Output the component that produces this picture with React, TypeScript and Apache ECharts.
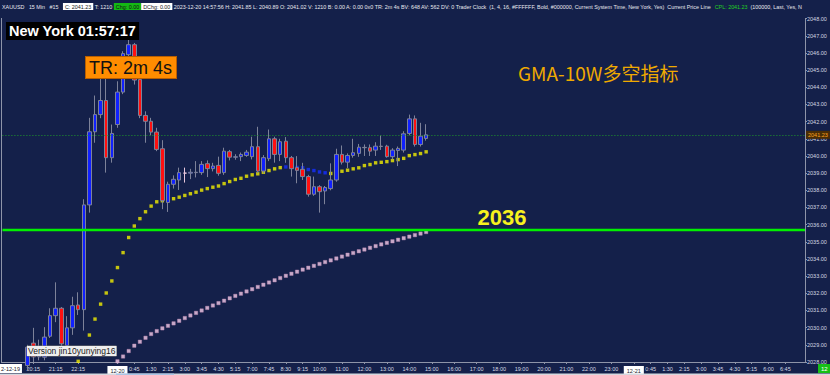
import React, { useEffect, useRef } from "react";
import * as echarts from "echarts";

// ---- axis categories: 15-minute bars (Beijing time), with the daily break ----
const SESSIONS: [string, string, string][] = [
  ["12-19", "19:00", "23:45"],
  ["12-20", "0:00", "5:45"],
  ["12-20", "7:00", "23:45"],
  ["12-21", "0:00", "7:30"],
];

const X_TICK_LABELS = [
  "12-19 20:15", "12-19 21:15", "12-19 22:15", "12-20 0:00", "12-20 0:45", "12-20 1:30",
  "12-20 2:15", "12-20 3:00", "12-20 3:45", "12-20 4:30", "12-20 5:15", "12-20 7:00",
  "12-20 7:45", "12-20 8:30", "12-20 9:15", "12-20 10:00", "12-20 11:00", "12-20 12:00",
  "12-20 13:00", "12-20 14:00", "12-20 15:00", "12-20 16:00", "12-20 17:00", "12-20 18:00",
  "12-20 19:00", "12-20 20:00", "12-20 21:00", "12-20 22:00", "12-20 23:00", "12-21 0:00",
  "12-21 0:45", "12-21 1:30", "12-21 2:15", "12-21 3:00", "12-21 3:45", "12-21 4:30",
  "12-21 5:15", "12-21 6:00", "12-21 6:45",
];

// ---- candles (first candle = 12-19 20:00) ----
const CANDLE_START = "12-19 20:00";
const candleOpen = [
  2027.8, 2029.1, 2028.3, 2028.28, 2029.5, 2030.7, 2031.13, 2028.96, 2029.99, 2031.32,
  2031.05, 2037.15, 2041.41, 2042.41, 2043.23, 2039.9, 2041.83, 2043.72, 2045.9, 2046.48,
  2044.45, 2042.36, 2042.02, 2041.39, 2040.42, 2037.29, 2038.35, 2038.6, 2039.0, 2039.0,
  2039.03, 2039.03, 2039.55, 2039.26, 2039.45, 2039.03, 2040.25, 2039.93, 2039.96, 2040.03,
  2039.96, 2040.54, 2039.12, 2039.84, 2041.0, 2040.09, 2040.86, 2039.9, 2039.32, 2039.22,
  2038.8, 2037.77, 2038.21, 2037.96, 2038.1, 2038.6, 2040.09, 2039.64, 2040.03, 2040.15,
  2040.5, 2040.48, 2040.34, 2040.57, 2040.57, 2039.96, 2040.32, 2040.34, 2041.31, 2042.16,
  2040.67, 2041.02,
];
const candleClose = [
  2028.86, 2028.3, 2028.8, 2029.45, 2030.7, 2031.13, 2029.06, 2029.99, 2031.28, 2031.05,
  2037.15, 2041.41, 2042.41, 2043.23, 2039.9, 2041.31, 2043.72, 2045.96, 2046.48, 2044.42,
  2042.36, 2042.02, 2041.39, 2040.38, 2037.4, 2038.35, 2038.64, 2039.03, 2039.0, 2039.05,
  2039.05, 2039.51, 2039.26, 2039.41, 2038.99, 2040.28, 2039.93, 2039.95, 2040.09, 2040.22,
  2040.54, 2039.12, 2039.9, 2041.0, 2040.09, 2040.83, 2039.9, 2039.26, 2039.16, 2038.8,
  2037.77, 2038.21, 2037.92, 2038.16, 2038.6, 2040.09, 2039.64, 2040.03, 2040.19, 2040.51,
  2040.48, 2040.28, 2040.57, 2040.55, 2039.96, 2040.34, 2040.44, 2041.29, 2042.16, 2040.67,
  2041.15, 2041.23,
];
const candleLow = [
  2027.5, 2028.0, 2028.1, 2028.1, 2029.4, 2030.32, 2028.9, 2028.9, 2029.58, 2030.74,
  2029.83, 2036.7, 2040.77, 2042.2, 2039.03, 2039.61, 2041.64, 2043.6, 2045.8, 2044.16,
  2042.2, 2040.77, 2041.2, 2040.28, 2036.9, 2036.74, 2038.1, 2038.02, 2038.45, 2038.65,
  2038.75, 2038.9, 2038.77, 2039.1, 2038.85, 2038.9, 2039.74, 2039.78, 2039.7, 2039.95,
  2039.8, 2039.0, 2038.99, 2039.7, 2039.61, 2039.7, 2039.6, 2038.8, 2038.41, 2038.6,
  2037.63, 2037.68, 2036.7, 2037.19, 2038.0, 2038.5, 2039.5, 2039.3, 2039.9, 2039.95,
  2040.0, 2040.0, 2040.0, 2040.35, 2039.9, 2039.8, 2039.41, 2040.2, 2041.2, 2040.55,
  2040.55, 2040.89,
];
const candleHigh = [
  2029.0, 2029.99, 2029.3, 2030.03, 2031.13, 2032.64, 2031.2, 2030.67, 2031.8, 2032.06,
  2037.48, 2042.22, 2043.52, 2044.5, 2044.49, 2041.83, 2044.35, 2046.1, 2046.87, 2046.58,
  2044.6, 2042.6, 2042.22, 2041.64, 2040.92, 2038.5, 2038.87, 2039.32, 2039.32, 2039.25,
  2039.7, 2039.7, 2039.74, 2039.6, 2039.96, 2040.48, 2040.35, 2040.1, 2040.2, 2040.35,
  2041.12, 2041.7, 2040.05, 2041.54, 2041.12, 2041.0, 2041.1, 2040.0, 2039.99, 2039.6,
  2038.9, 2038.8, 2038.3, 2038.25, 2039.57, 2040.42, 2040.61, 2040.15, 2041.0, 2040.7,
  2040.67, 2040.67, 2040.8, 2041.19, 2040.65, 2040.45, 2040.55, 2041.44, 2042.41, 2042.36,
  2041.93, 2041.85,
];

// ---- fast GMA (dots), first point = 12-19 22:15 ----
const FAST_START = "12-19 22:15";
const gmaFast = [
  2028.04, 2028.8, 2029.57, 2030.5, 2031.37, 2032.02, 2032.72, 2033.5, 2034.37, 2035.25,
  2035.92, 2036.35, 2036.75, 2037.08, 2037.33, 2037.39, 2037.42, 2037.51, 2037.6, 2037.7,
  2037.8, 2037.89, 2038.01, 2038.1, 2038.18, 2038.25, 2038.39, 2038.51, 2038.63, 2038.7,
  2038.82, 2038.9, 2038.96, 2039.05, 2039.15, 2039.25, 2039.32, 2039.36, 2039.34, 2039.33,
  2039.31, 2039.21, 2039.15, 2039.07, 2039.02, 2038.98, 2039.05, 2039.11, 2039.17, 2039.25,
  2039.31, 2039.44, 2039.5, 2039.6, 2039.63, 2039.67, 2039.73, 2039.79, 2039.86, 2040.02,
  2040.08, 2040.14, 2040.24,
];
// bars where the fast GMA is falling (drawn blue)
const FAST_DOWN_FROM = "12-20 8:30";
const FAST_DOWN_TO = "12-20 10:15";

// ---- slow GMA (pink dots), first point = 12-20 0:00 ----
const SLOW_START = "12-20 0:00";
const gmaSlow = [
  2028.04, 2028.32, 2028.64, 2028.95, 2029.18, 2029.41, 2029.63, 2029.8, 2029.96, 2030.11,
  2030.25, 2030.4, 2030.56, 2030.71, 2030.86, 2031.0, 2031.15, 2031.29, 2031.43, 2031.57,
  2031.71, 2031.85, 2031.98, 2032.11, 2032.24, 2032.37, 2032.5, 2032.63, 2032.76, 2032.89,
  2033.02, 2033.14, 2033.26, 2033.38, 2033.49, 2033.6, 2033.71, 2033.82, 2033.92, 2034.03,
  2034.14, 2034.25, 2034.35, 2034.45, 2034.55, 2034.65, 2034.75, 2034.85, 2034.94, 2035.03,
  2035.12, 2035.21, 2035.3, 2035.39, 2035.48, 2035.57,
];

const CURRENT_PRICE = 2041.23;
const KEY_LEVEL = 2035.68;
const KEY_LEVEL_TEXT = "2036";
const Y_MIN = 2028;
const Y_MAX = 2048;

function buildCategories(): string[] {
  const out: string[] = [];
  const toMin = (s: string) => {
    const [h, m] = s.split(":").map(Number);
    return h * 60 + m;
  };
  for (const [d, a, b] of SESSIONS) {
    for (let t = toMin(a); t <= toMin(b); t += 15) {
      out.push(`${d} ${Math.floor(t / 60)}:${String(t % 60).padStart(2, "0")}`);
    }
  }
  return out;
}

const FONT = "Liberation Sans";

function txt(x: number, y: number, text: string, extra: any = {}) {
  return {
    type: "text",
    x,
    y,
    z: 100,
    silent: true,
    style: {
      text,
      fill: "#e8e8ee",
      fontSize: 5,
      fontFamily: FONT,
      verticalAlign: "middle",
      align: "left",
      ...extra,
    },
  };
}

const HEADER =
  "{w|XAUUSD   15 Min   #15   }{b|C: 2041.23}{w| T: 1210 }{g|Chg: 0.00}{b|DChg: 0.00}" +
  "{w| 2023-12-20 14:57:56 H: 2041.85 L: 2040.89 O: 2041.02 V: 1210 B: 0.00 A: 0.00 0x0 TR: 2m 4s BV: 648 AV: 562 DV: 0 Trader Clock  (1, 4, 16, #FFFFFF, Bold, #000000, Current System Time, New York, Yes)  Current Price Line  }" +
  "{c|CPL: 2041.23}{w|  (100000, Last, Yes, N}";

export default function App() {
  const ref = useRef<HTMLDivElement>(null);

  useEffect(() => {
    document.body.style.margin = "0";
    if (!ref.current) return;
    const chart = echarts.init(ref.current, undefined, { renderer: "svg" });
    const cats = buildCategories();
    const idx = (c: string) => cats.indexOf(c);
    const labelSet = new Set(X_TICK_LABELS);

    const c0 = idx(CANDLE_START);
    const candleData = candleOpen.map((o, k) => [
      c0 + k,
      o,
      candleClose[k],
      candleLow[k],
      candleHigh[k],
    ]);

    const f0 = idx(FAST_START);
    const downA = idx(FAST_DOWN_FROM);
    const downB = idx(FAST_DOWN_TO);
    const fastUp: any[] = [];
    const fastDown: any[] = [];
    gmaFast.forEach((v, k) => {
      const i = f0 + k;
      if (i >= downA && i <= downB) fastDown.push([i, v]);
      else fastUp.push([i, v]);
    });

    const s0 = idx(SLOW_START);
    const slowData = gmaSlow.map((v, k) => [s0 + k, v]);

    const isLabel = (_i: number, v: string) => labelSet.has(v);
    const hs = 5.38;

    const option: any = {
      animation: false,
      backgroundColor: "#14204a",
      grid: { left: 2.4, right: 25, top: 18.6, bottom: 12 },
      xAxis: {
        type: "category",
        data: cats,
        boundaryGap: true,
        axisLine: { show: true, lineStyle: { color: "#8e94a8", width: 1 } },
        axisTick: {
          show: true,
          interval: isLabel,
          alignWithLabel: true,
          length: 2,
          lineStyle: { color: "#8e94a8" },
        },
        axisLabel: {
          interval: isLabel,
          color: "#d6d8e2",
          fontSize: 5.5,
          fontFamily: FONT,
          margin: 4,
          formatter: (v: string) => {
            const [d, t] = v.split(" ");
            return t === "0:00" ? `{d|${d}}` : t;
          },
          rich: {
            d: {
              backgroundColor: "#ffffff",
              color: "#1a1a2a",
              fontSize: 5.5,
              fontFamily: FONT,
              padding: [2, 3, 1, 3],
            },
          },
        },
        splitLine: { show: false },
      },
      yAxis: {
        type: "value",
        position: "right",
        min: Y_MIN,
        max: Y_MAX,
        interval: 1,
        axisLine: { show: true, lineStyle: { color: "#8e94a8", width: 1 } },
        axisTick: { show: true, length: 2, lineStyle: { color: "#8e94a8" } },
        axisLabel: {
          formatter: (v: number) => v.toFixed(2),
          color: "#d6d8e2",
          fontSize: 5.5,
          fontFamily: FONT,
          margin: 2,
        },
        splitLine: { show: false },
      },
      series: [
        {
          name: "GMA slow",
          type: "scatter",
          data: slowData,
          symbol: "rect",
          symbolSize: 3.4,
          z: 2,
          silent: true,
          itemStyle: { color: "#f3cde8", borderColor: "#c98fb9", borderWidth: 0.5 },
        },
        {
          name: "GMA fast up",
          type: "scatter",
          data: fastUp,
          symbol: "rect",
          symbolSize: 3.4,
          z: 2,
          silent: true,
          itemStyle: { color: "#f2ef00" },
        },
        {
          name: "GMA fast down",
          type: "scatter",
          data: fastDown,
          symbol: "rect",
          symbolSize: 3.4,
          z: 2,
          silent: true,
          itemStyle: { color: "#1530ff" },
        },
        {
          name: "XAUUSD",
          type: "candlestick",
          data: candleData,
          encode: { x: 0, y: [1, 2, 3, 4] },
          barWidth: 4,
          z: 3,
          itemStyle: {
            color: "#1020ff",
            color0: "#ff1010",
            borderColor: "#7d8299",
            borderColor0: "#7d8299",
            borderColorDoji: "#e8c8dc",
            borderWidth: 1,
          },
          markLine: {
            silent: true,
            symbol: "none",
            data: [
              {
                yAxis: CURRENT_PRICE,
                lineStyle: { color: "#1f9a2a", width: 1, type: [1, 2] },
                label: {
                  show: true,
                  position: "end",
                  distance: 1,
                  formatter: CURRENT_PRICE.toFixed(2),
                  backgroundColor: "#4a2d06",
                  color: "#ffa51e",
                  fontSize: 5.5,
                  fontFamily: FONT,
                  padding: [1, 2],
                },
              },
              {
                yAxis: KEY_LEVEL,
                lineStyle: { color: "#00f000", width: 2.4, type: "solid" },
                label: { show: false },
              },
            ],
          },
        },
      ],
      graphic: [
        // left panel border
        {
          type: "line",
          z: 50,
          silent: true,
          shape: { x1: 1.5, y1: 18, x2: 1.5, y2: 363 },
          style: { stroke: "#8e94a8", lineWidth: 1 },
        },
        // header info line (one rich text so the pieces flow like the original)
        {
          type: "text",
          x: 2,
          y: 6.5,
          z: 100,
          silent: true,
          style: {
            text: HEADER,
            fontSize: hs,
            fontFamily: FONT,
            verticalAlign: "middle",
            align: "left",
            rich: {
              w: { fill: "#e8e8ee", fontSize: hs, fontFamily: FONT },
              b: { fill: "#222222", backgroundColor: "#ffffff", fontSize: hs, fontFamily: FONT, padding: [1, 2] },
              g: { fill: "#111111", backgroundColor: "#14b814", fontSize: hs, fontFamily: FONT, padding: [1, 2] },
              c: { fill: "#22d022", fontSize: hs, fontFamily: FONT },
            },
          },
        },
        // trader clock
        txt(6, 31, "New York 01:57:17", {
          backgroundColor: "#000000",
          fill: "#ffffff",
          fontSize: 14.5,
          fontWeight: "bold",
          padding: [2, 3, 1, 3],
        }),
        // time remaining
        txt(86, 67.5, "TR: 2m 4s", {
          backgroundColor: "#ff8c00",
          borderColor: "#b85e00",
          borderWidth: 1,
          fill: "#111111",
          fontSize: 18,
          padding: [2, 4, 1, 3],
        }),
        // indicator title
        txt(518, 72, "GMA-10W多空指标", {
          fill: "#f0aa00",
          fontSize: 19,
          fontFamily: "Noto Sans CJK SC",
        }),
        // key level label
        txt(502, 217.5, KEY_LEVEL_TEXT, {
          fill: "#f7f21e",
          fontSize: 22,
          fontWeight: "bold",
          align: "center",
        }),
        // version tag
        txt(27, 351, "Version jin10yunying16", {
          backgroundColor: "#eeeeee",
          borderColor: "#777777",
          borderWidth: 0.5,
          fill: "#222222",
          fontSize: 8.5,
          padding: [1, 1, 0, 1],
        }),
        // partially visible first date label
        txt(0, 368.5, "2-12-19", {
          backgroundColor: "#ffffff",
          fill: "#1a1a2a",
          fontSize: 5.5,
          padding: [2, 2, 1, 1],
        }),
        // bar counter
        txt(818, 368.5, "12", {
          backgroundColor: "#16c016",
          fill: "#ffffff",
          fontSize: 6,
          padding: [2, 3, 1, 3],
        }),
        // bottom scroll strip
        {
          type: "rect",
          z: 90,
          silent: true,
          shape: { x: 0, y: 373.5, width: 830, height: 2 },
          style: { fill: "#d5d8de" },
        },
        {
          type: "rect",
          z: 91,
          silent: true,
          shape: { x: 116, y: 373.5, width: 58, height: 2 },
          style: { fill: "#a9c6e6" },
        },
      ],
    };

    chart.setOption(option);
    return () => chart.dispose();
  }, []);

  return <div ref={ref} style={{ width: 830, height: 375 }} />;
}
